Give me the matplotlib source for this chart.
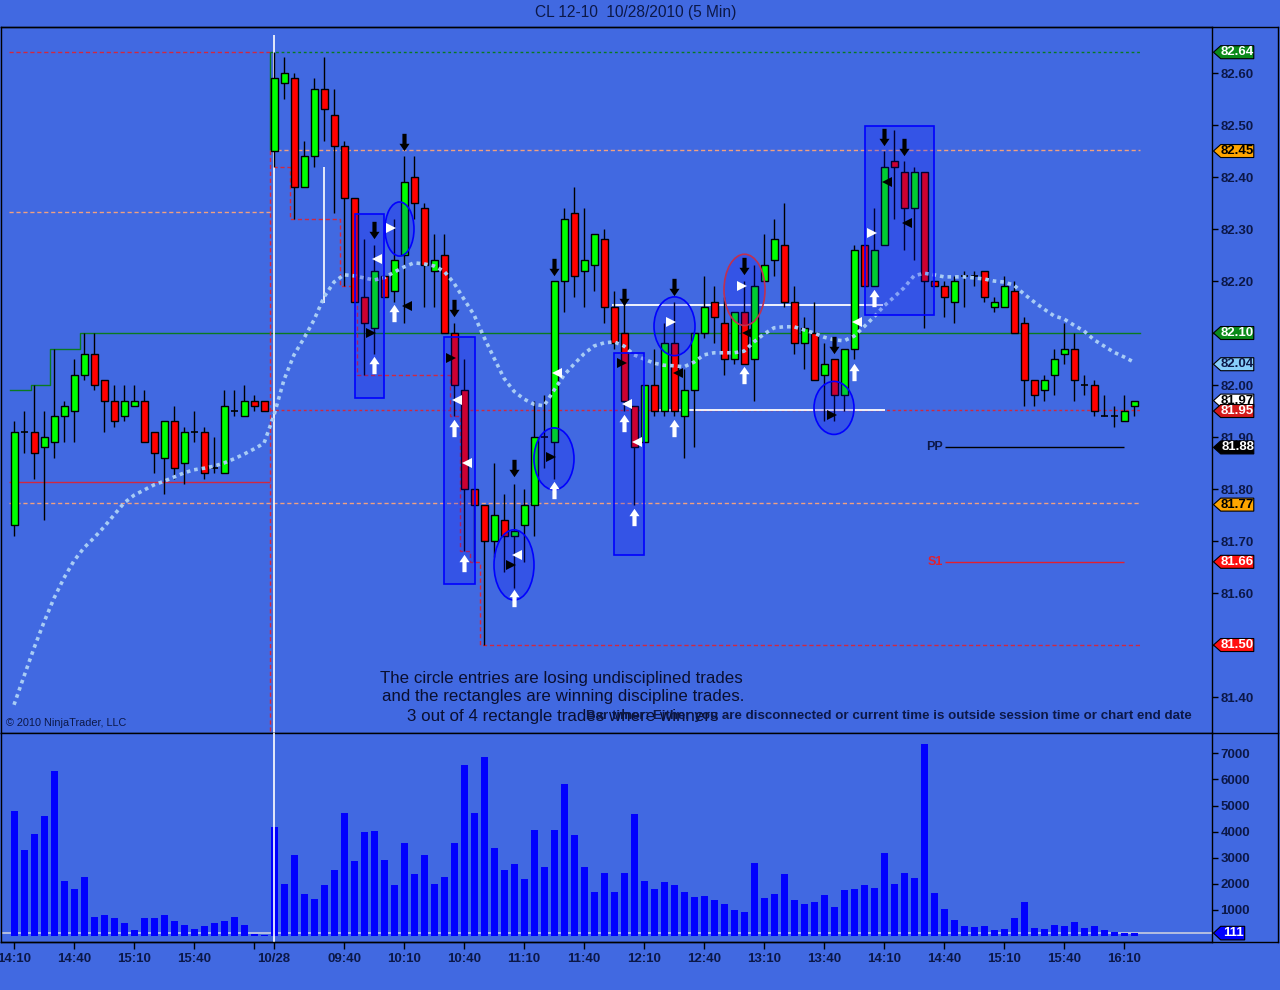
import matplotlib
matplotlib.use("Agg")
import matplotlib.pyplot as plt
from matplotlib.patches import Rectangle, Ellipse, Polygon
from matplotlib.path import Path
from matplotlib.lines import Line2D

plt.rcParams['font.family'] = ['Liberation Sans', 'DejaVu Sans']

BG = '#4169E1'
NAVY = '#0c1848'

# ---------------- data: previous session (10/27, 14:10 - 16:15) ----------------
prev_open = [81.73, 81.91, 81.91, 81.88, 81.89, 81.94, 81.95, 82.02, 82.06, 82.01, 81.97, 81.94, 81.96,
             81.97, 81.91, 81.86, 81.93, 81.85, 81.91, 81.91, 81.84, 81.83, 81.95, 81.94, 81.97, 81.97]
prev_high = [81.93, 81.95, 82.00, 81.95, 82.07, 81.97, 82.05, 82.10, 82.10, 82.01, 82.00, 82.00, 82.00,
             81.99, 81.91, 81.93, 81.96, 81.92, 81.95, 81.92, 81.90, 81.99, 81.99, 82.00, 81.98, 81.97]
prev_low = [81.71, 81.87, 81.82, 81.74, 81.86, 81.89, 81.89, 82.01, 81.99, 81.91, 81.92, 81.93, 81.96,
            81.89, 81.83, 81.79, 81.82, 81.81, 81.89, 81.82, 81.83, 81.83, 81.94, 81.94, 81.95, 81.95]
prev_close = [81.91, 81.91, 81.87, 81.90, 81.94, 81.96, 82.02, 82.06, 82.00, 81.97, 81.93, 81.97, 81.97,
              81.89, 81.87, 81.93, 81.84, 81.91, 81.91, 81.83, 81.84, 81.96, 81.95, 81.97, 81.96, 81.95]
prev_volume = [4790, 3300, 3910, 4600, 6320, 2110, 1800, 2260, 730, 800, 690, 500, 230,
               690, 690, 800, 575, 420, 270, 380, 500, 575, 730, 420, 80, 40]
prev_ma = [81.385, 81.440, 81.494, 81.544, 81.590, 81.629, 81.662, 81.687, 81.706, 81.727, 81.750, 81.773, 81.788,
           81.798, 81.808, 81.815, 81.823, 81.831, 81.837, 81.840, 81.844, 81.850, 81.858, 81.867, 81.877, 81.888]

# ---------------- data: current session (10/28, 09:05 - 16:15) ----------------
cur_open = [82.45, 82.58, 82.59, 82.38, 82.44, 82.57, 82.52, 82.46, 82.36, 82.17,
            82.11, 82.21, 82.18, 82.25, 82.40, 82.34, 82.22, 82.25, 82.10, 81.99,
            81.80, 81.77, 81.70, 81.74, 81.71, 81.73, 81.77, 81.90, 81.89, 82.20,
            82.33, 82.22, 82.23, 82.28, 82.15, 82.10, 81.96, 81.89, 82.00, 81.95,
            82.08, 81.94, 81.99, 82.10, 82.16, 82.12, 82.05, 82.14, 82.05, 82.20,
            82.24, 82.27, 82.16, 82.08, 82.10, 82.02, 82.05, 81.98, 82.07, 82.27,
            82.19, 82.27, 82.43, 82.41, 82.34, 82.41, 82.20, 82.19, 82.16, 82.21,
            82.21, 82.22, 82.15, 82.15, 82.18, 82.12, 82.01, 81.99, 82.02, 82.06,
            82.07, 82.00, 82.00, 81.94, 81.94, 81.93, 81.96]
cur_high = [82.64, 82.63, 82.60, 82.47, 82.59, 82.63, 82.57, 82.47, 82.36, 82.28,
            82.27, 82.21, 82.32, 82.44, 82.44, 82.35, 82.29, 82.29, 82.12, 82.05,
            81.80, 81.77, 81.85, 81.79, 81.81, 81.80, 81.97, 81.98, 82.20, 82.34,
            82.38, 82.34, 82.29, 82.30, 82.18, 82.16, 81.96, 82.00, 82.07, 82.12,
            82.16, 82.03, 82.10, 82.21, 82.19, 82.17, 82.14, 82.20, 82.23, 82.29,
            82.32, 82.35, 82.19, 82.13, 82.16, 82.08, 82.05, 82.07, 82.27, 82.27,
            82.34, 82.45, 82.49, 82.43, 82.42, 82.41, 82.20, 82.20, 82.21, 82.22,
            82.22, 82.22, 82.17, 82.21, 82.20, 82.13, 82.01, 82.02, 82.07, 82.12,
            82.10, 82.02, 82.01, 81.98, 81.96, 81.98, 81.97]
cur_low = [82.42, 82.55, 82.32, 82.38, 82.42, 82.47, 82.33, 82.19, 82.16, 82.02,
           82.06, 82.17, 82.16, 82.12, 82.32, 82.15, 82.15, 82.10, 81.94, 81.68,
           81.66, 81.50, 81.67, 81.64, 81.61, 81.66, 81.71, 81.84, 81.82, 82.14,
           82.17, 82.15, 82.18, 82.12, 82.07, 81.95, 81.77, 81.89, 81.94, 81.94,
           81.94, 81.86, 81.88, 82.09, 82.08, 82.02, 82.04, 82.04, 81.97, 82.20,
           82.21, 82.15, 82.06, 82.03, 82.01, 81.93, 81.93, 81.95, 82.05, 82.19,
           82.19, 82.27, 82.32, 82.26, 82.24, 82.11, 82.19, 82.13, 82.12, 82.15,
           82.19, 82.16, 82.14, 82.15, 82.10, 81.96, 81.96, 81.97, 81.98, 82.04,
           81.97, 81.98, 81.94, 81.94, 81.92, 81.93, 81.94]
cur_close = [82.59, 82.60, 82.38, 82.44, 82.57, 82.53, 82.46, 82.36, 82.16, 82.12,
             82.22, 82.17, 82.24, 82.39, 82.35, 82.23, 82.24, 82.10, 82.00, 81.80,
             81.77, 81.70, 81.75, 81.71, 81.72, 81.77, 81.90, 81.90, 82.20, 82.32,
             82.21, 82.24, 82.29, 82.15, 82.08, 81.97, 81.88, 82.00, 81.95, 82.08,
             81.95, 81.99, 82.10, 82.15, 82.13, 82.05, 82.14, 82.04, 82.19, 82.23,
             82.28, 82.16, 82.08, 82.11, 82.01, 82.04, 81.98, 82.07, 82.26, 82.19,
             82.26, 82.42, 82.42, 82.34, 82.41, 82.20, 82.19, 82.17, 82.20, 82.21,
             82.21, 82.17, 82.16, 82.19, 82.10, 82.01, 81.98, 82.01, 82.05, 82.07,
             82.01, 82.00, 81.95, 81.94, 81.94, 81.95, 81.97]
cur_volume = [4180, 1990, 3100, 1610, 1420, 1950, 2530, 4710, 2870, 3980, 4020, 2910, 1950,
              3560, 2380, 3100, 1990, 2260, 3560, 6550, 4710, 6860, 3370, 2530, 2760, 2180,
              4060, 2640, 4060, 5820, 3870, 2640, 1690,
              2410, 1690, 2410, 4670, 2110, 1800, 2070, 1950, 1690, 1490, 1530, 1380, 1230,
              1000, 920, 2800, 1460, 1610, 2380, 1380, 1230, 1300, 1570, 1110, 1760, 1800,
              1950, 1840, 3180, 1990, 2410, 2220, 7360, 1650, 1030, 610, 380, 340, 380, 230,
              270, 690, 1300, 310, 270, 420, 380, 540, 310, 380, 230, 150, 110, 111]
cur_ma = [81.942, 82.010, 82.058, 82.090, 82.125, 82.169, 82.198, 82.212, 82.210, 82.206,
          82.202, 82.206, 82.217, 82.227, 82.235, 82.233, 82.229, 82.219, 82.196, 82.165,
          82.135, 82.092, 82.052, 82.013, 81.988, 81.973, 81.963, 81.960, 81.990, 82.019,
          82.040, 82.060, 82.075, 82.081, 82.083, 82.075, 82.058, 82.050, 82.042, 82.038,
          82.037, 82.035, 82.044, 82.058, 82.062, 82.062, 82.062, 82.065, 82.083, 82.098,
          82.110, 82.112, 82.112, 82.106, 82.100, 82.092, 82.087, 82.085, 82.094, 82.112,
          82.131, 82.152, 82.169, 82.187, 82.210, 82.215, 82.212, 82.208, 82.208, 82.208,
          82.206, 82.204, 82.200, 82.198, 82.192, 82.175, 82.160, 82.146, 82.133, 82.127,
          82.115, 82.104, 82.087, 82.075, 82.063, 82.054, 82.044]

# time axis labels (bar index, text)
tick_idx = [0, 6, 12, 18, 24, 26, 33, 39, 45, 51, 57, 63, 69, 75, 81, 87, 93, 99, 105, 111]
tick_lab = ['14:10', '14:40', '15:10', '15:40', '', '10/28', '09:40', '10:10', '10:40', '11:10',
            '11:40', '12:10', '12:40', '13:10', '13:40', '14:10', '14:40', '15:10', '15:40', '16:10']
price_ticks = [81.40, 81.50, 81.60, 81.70, 81.80, 81.90, 82.00, 82.10, 82.20, 82.30, 82.40, 82.50, 82.60]
vol_ticks = [1000, 2000, 3000, 4000, 5000, 6000, 7000]

# price marker flags on the axis (value, background, text colour)
flag_vals = [82.64, 82.45, 82.10, 82.04, 81.97, 81.95, 81.88, 81.77, 81.66, 81.50]
flag_bg = ['#0a8a1a', '#FFA500', '#0a8a1a', '#87CEFA', 'white', '#D41A1A', 'black', '#FFA500', '#FF1010', '#FF1010']
flag_fg = ['white', 'black', 'white', NAVY, 'black', 'white', 'white', 'black', 'white', 'white']
last_volume = 111

# drawn objects (bar index, price)
rects = [(34.1, 81.975, 2.9, 0.354), (43.0, 81.617, 3.1, 0.475),
         (60.0, 81.673, 3.0, 0.389), (85.1, 82.135, 6.9, 0.363)]
ellipses = [(38.55, 82.300, 2.9, 0.104, '#0000FF'), (50.0, 81.654, 4.0, 0.135, '#0000FF'),
            (54.0, 81.858, 4.0, 0.119, '#0000FF'), (66.05, 82.113, 4.1, 0.113, '#0000FF'),
            (73.05, 82.183, 4.1, 0.137, '#C03050'), (82.0, 81.956, 4.0, 0.102, '#0000FF')]
down_arrows = [(36, 82.298), (39, 82.467), (44, 82.148), (50, 81.840), (54, 82.227), (61, 82.169),
               (66, 82.188), (73, 82.229), (82, 82.077), (87, 82.477), (89, 82.458)]
up_arrows = [(36, 82.038), (38, 82.138), (44, 81.917), (45, 81.658), (50, 81.590), (54, 81.798),
             (61, 81.927), (62, 81.746), (66, 81.917), (73, 82.019), (84, 82.025), (86, 82.167)]
white_right = [(37.7, 82.302), (65.7, 82.121), (72.8, 82.190), (85.8, 82.292)]
white_left = [(36.3, 82.242), (44.3, 81.971), (45.3, 81.850), (50.3, 81.673), (54.3, 82.023),
              (61.3, 81.963), (62.3, 81.890), (84.3, 82.121)]
black_right = [(35.7, 82.100), (43.7, 82.052), (49.7, 81.654), (53.7, 81.862), (60.8, 82.042), (81.8, 81.942)]
black_left = [(39.3, 82.152), (66.4, 82.023), (73.3, 82.100), (87.3, 82.390), (89.3, 82.312)]

# ---------------- combine ----------------
o = prev_open + cur_open
h = prev_high + cur_high
l = prev_low + cur_low
c = prev_close + cur_close
vol = prev_volume + cur_volume
ma = prev_ma + cur_ma
idx = list(range(len(o)))

fig = plt.figure(figsize=(12.8, 9.9), dpi=100, facecolor=BG)
W, H = 1280.0, 990.0
ax = fig.add_axes([1 / W, (H - 733) / H, 1211 / W, 706 / H], facecolor=BG)
ax2 = fig.add_axes([1 / W, (H - 942) / H, 1211 / W, 209 / H], facecolor=BG, sharex=ax)

XL = (-1.3, 119.8)
ax.set_xlim(*XL)
ax.set_ylim(81.3308, 82.6885)
ax2.set_ylim(-230, 7778)

# ---- level lines ----
salmon = '#F0A080'
red_d = '#D02840'
grn = '#0a7a20'
ax.hlines(82.64, -0.5, 25.6, color=red_d, lw=1, ls=(0, (3, 2)), zorder=1)
ax.hlines(82.64, 25.6, 112.6, color=grn, lw=1, ls=(0, (2, 2)), zorder=1)
ax.hlines(82.333, -0.5, 25.6, color=salmon, lw=1, ls=(0, (3, 2)), zorder=1)
ax.hlines(82.452, 25.6, 112.6, color=salmon, lw=1, ls=(0, (3, 2)), zorder=1)
ax.hlines(81.773, -0.5, 112.6, color=salmon, lw=1, ls=(0, (3, 2)), zorder=1)
ax.hlines(81.813, -0.5, 25.6, color=red_d, lw=1, zorder=1)
ax.hlines(81.952, 25.6, 112.6, color=red_d, lw=1, ls=(0, (2, 2)), zorder=1)
ax.plot([-0.4, 1.7, 1.7, 3.6, 3.6, 6.6, 6.6, 112.6],
        [81.99, 81.99, 82.00, 82.00, 82.07, 82.07, 82.10, 82.10], color=grn, lw=1, zorder=1)
ax.plot([25.9, 27.6, 27.6, 32.6, 32.6, 34.3, 34.3, 43.6, 43.6, 44.6, 44.6, 45.6, 45.6, 46.6, 46.6, 112.6],
        [82.42, 82.42, 82.32, 82.32, 82.19, 82.19, 82.02, 82.02, 81.94, 81.94, 81.68, 81.68, 81.66, 81.66, 81.50, 81.50],
        color=red_d, lw=1, ls=(0, (3, 2)), zorder=1)
ax.vlines(25.6, 82.452, 82.64, color=grn, lw=1, zorder=1)
ax.vlines(25.6, 81.335, 82.452, color=red_d, lw=1, ls=(0, (3, 2)), zorder=1)
ax.hlines(82.154, 59.8, 86.9, color='white', lw=1.3, zorder=1)
ax.hlines(81.952, 64.1, 87.1, color='white', lw=1.3, zorder=1)
ax.hlines(81.88, 93.1, 111.0, color='black', lw=1, zorder=1)
ax.hlines(81.66, 93.1, 111.0, color='#E02030', lw=1, zorder=1)
ax.text(92.9, 81.88, 'PP', color=NAVY, fontsize=9, fontweight='bold', ha='right', va='center')
ax.text(92.9, 81.66, 'S1', color='#E02030', fontsize=9, fontweight='bold', ha='right', va='center')
ax.vlines(26, 81.331, 82.673, color='white', lw=1.2, zorder=1)
ax.vlines(31, 82.158, 82.419, color='white', lw=1.2, zorder=1)

# ---- candles ----
for i in idx:
    ax.vlines(i, l[i], h[i], color='black', lw=1, zorder=2)
    if abs(c[i] - o[i]) < 0.005:
        ax.hlines(c[i], i - 0.35, i + 0.35, color='black', lw=1.2, zorder=3)
    else:
        col = '#00FF00' if c[i] > o[i] else '#FF0000'
        ax.bar(i, abs(c[i] - o[i]), bottom=min(o[i], c[i]), width=0.7, color=col,
               edgecolor='black', linewidth=1, zorder=3)

# ---- moving average ----
ax.plot(idx, ma, color='#A8CCF5', lw=2.6, ls=(0, (1, 1.1)), zorder=4)

# ---- rectangles, ellipses ----
for (x0, y0, w, hh) in rects:
    ax.add_patch(Rectangle((x0, y0), w, hh, facecolor=(0, 0, 1, 0.2), edgecolor='#0000FF', lw=1.2, zorder=5))
for (xc, yc, w, hh, ec) in ellipses:
    ax.add_patch(Ellipse((xc, yc), w, hh, facecolor=(0, 0, 1, 0.2), edgecolor=ec, lw=1.2, zorder=5))

# ---- arrows and markers ----
up_v = [(-0.24, -1.0), (0.24, -1.0), (0.24, 0.15), (0.58, 0.15), (0.0, 1.0), (-0.58, 0.15), (-0.24, 0.15), (-0.24, -1.0)]
codes = [Path.MOVETO] + [Path.LINETO] * 6 + [Path.CLOSEPOLY]
up_path = Path(up_v, codes)
down_path = Path([(x, -y) for x, y in up_v], codes)
ax.plot([p[0] for p in down_arrows], [p[1] for p in down_arrows], ls='none', marker=down_path,
        markersize=12.5, color='black', markeredgewidth=0, zorder=6)
ax.plot([p[0] for p in up_arrows], [p[1] for p in up_arrows], ls='none', marker=up_path,
        markersize=12.5, color='white', markeredgewidth=0, zorder=6)
ax.plot([p[0] for p in white_right], [p[1] for p in white_right], ls='none', marker='>', markersize=6.5,
        color='white', markeredgewidth=0, zorder=6)
ax.plot([p[0] for p in white_left], [p[1] for p in white_left], ls='none', marker='<', markersize=6.5,
        color='white', markeredgewidth=0, zorder=6)
ax.plot([p[0] for p in black_right], [p[1] for p in black_right], ls='none', marker='>', markersize=6.5,
        color='black', markeredgewidth=0, zorder=6)
ax.plot([p[0] for p in black_left], [p[1] for p in black_left], ls='none', marker='<', markersize=6.5,
        color='black', markeredgewidth=0, zorder=6)

# ---- price axis ----
ax.yaxis.tick_right()
ax.set_yticks(price_ticks)
ax.set_yticklabels(['%.2f' % v for v in price_ticks], fontweight='bold')
ax.tick_params(axis='y', direction='out', length=4, width=1, color='black', pad=2, labelsize=9.5, labelcolor=NAVY)
ax.tick_params(axis='x', bottom=False, labelbottom=False)
for s in ax.spines.values():
    s.set_color('black')
    s.set_linewidth(1)

ytr = ax.get_yaxis_transform()
hp = 0.0125
for v, bg, fg in zip(flag_vals, flag_bg, flag_fg):
    poly = Polygon([(1.0012, v), (1.0072, v + hp), (1.0345, v + hp), (1.0345, v - hp), (1.0072, v - hp)],
                   closed=True, transform=ytr, facecolor=bg, edgecolor='black', lw=0.8, clip_on=False, zorder=10)
    ax.add_patch(poly)
    ax.text(1.0212, v, '%.2f' % v, transform=ytr, color=fg, fontsize=9.5, fontweight='bold',
            ha='center', va='center', clip_on=False, zorder=11)

# ---- volume ----
ax2.bar(idx, vol, width=0.7, color='#0000FF', zorder=2)
ax2.axhline(last_volume, color='#C8CCE0', lw=1.2, zorder=1)
ax2.yaxis.tick_right()
ax2.set_yticks(vol_ticks)
ax2.set_yticklabels([str(v) for v in vol_ticks], fontweight='bold')
ax2.tick_params(axis='y', direction='out', length=4, width=1, color='black', pad=2, labelsize=9.5, labelcolor=NAVY)
ax2.set_xticks(tick_idx)
ax2.set_xticklabels(tick_lab, fontweight='bold')
ax2.tick_params(axis='x', direction='out', length=5, width=1, color='black', pad=3, labelsize=9.5, labelcolor=NAVY)
for s in ax2.spines.values():
    s.set_color('black')
    s.set_linewidth(1)
ax2.vlines(26, -230, 7778, color='white', lw=1.2, zorder=3)
ytr2 = ax2.get_yaxis_transform()
hv = 260
ax2.add_patch(Polygon([(1.0012, last_volume), (1.0072, last_volume + hv), (1.0270, last_volume + hv),
                       (1.0270, last_volume - hv), (1.0072, last_volume - hv)], closed=True, transform=ytr2,
                      facecolor='#0000FF', edgecolor='black', lw=0.8, clip_on=False, zorder=10))
ax2.text(1.0175, last_volume, str(last_volume), transform=ytr2, color='white', fontsize=9.5,
         fontweight='bold', ha='center', va='center', clip_on=False, zorder=11)

# ---- outer frame ----
def fx(px):
    return px / W

def fy(py):
    return 1 - py / H

for (x0, y0, x1, y1) in [(1, 27, 1278, 27), (1278, 27, 1278, 942), (1, 942, 1278, 942), (1212, 733, 1278, 733)]:
    fig.add_artist(Line2D([fx(x0), fx(x1)], [fy(y0), fy(y1)], color='black', lw=1))

# ---- texts ----
fig.text(fx(636), fy(12), 'CL 12-10  10/28/2010 (5 Min)', color=NAVY, fontsize=11.2, ha='center', va='center')
fig.text(fx(380), fy(679), 'The circle entries are losing undisciplined trades', color='#0a0f30', fontsize=12.2,
         ha='left', va='center')
fig.text(fx(382), fy(697), 'and the rectangles are winning discipline trades.', color='#0a0f30', fontsize=12.2,
         ha='left', va='center')
fig.text(fx(407), fy(716), '3 out of 4 rectangle trades where winners', color='#0a0f30', fontsize=12.2,
         ha='left', va='center')
fig.text(fx(1192), fy(716), 'Bar timer: Either you are disconnected or current time is outside session time or chart end date',
         color=NAVY, fontsize=9.6, fontweight='bold', ha='right', va='center')
fig.text(fx(6), fy(723), '\u00a9 2010 NinjaTrader, LLC', color=NAVY, fontsize=7.8, ha='left', va='center')

fig.savefig('out.png', dpi=100, facecolor=BG)
